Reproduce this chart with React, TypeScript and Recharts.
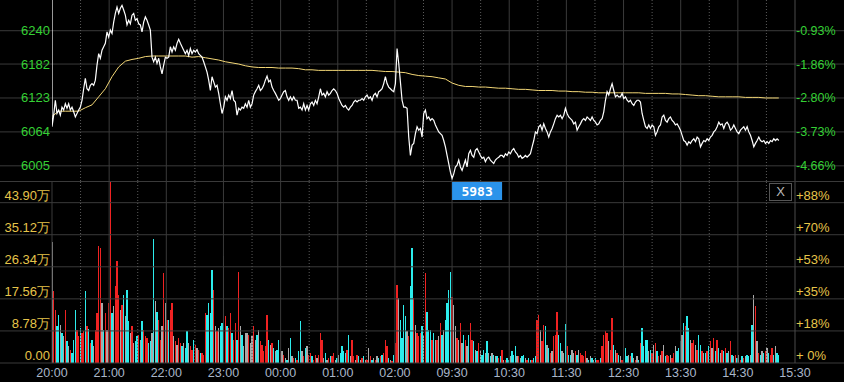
import { LineChart, Line, BarChart, Bar, XAxis, YAxis, ReferenceLine } from "recharts";

const FONT = "'Liberation Sans', Arial, sans-serif";
const GRID = "#3a3a3a";
const GRID_DOT = "#5a5a5a";
const GREEN = "#35d035";
const GOLD = "#e6c44a";
const TIME_COLOR = "#a9b6c9";
const BAR_COLORS: Record<string, string> = { r: "#f02222", c: "#2cecec", g: "#aaaaaa" };

// minutes from 20:00, sessions glued together (night + day = 780 min)
const SESSION_MIN = 780;
const STEP = 1.75;
const PRE_CLOSE = 6298.6;

const PRICE_DOMAIN = [5978.6, 6293.4];
const PRICE_TICKS = [6005, 6064, 6123, 6182, 6240];
const PRICE_LABELS = ["6005", "6064", "6123", "6182", "6240"];
const PCT_LABELS = ["-4.66%", "-3.73%", "-2.80%", "-1.86%", "-0.93%"];

const VOL_DOMAIN = [0, 49.83];
const VOL_TICKS = [0, 8.78, 17.56, 26.34, 35.12, 43.9];
const VOL_LABELS = ["0.00", "8.78万", "17.56万", "26.34万", "35.12万", "43.90万"];
const VOL_PCT_LABELS = ["+ 0%", "+18%", "+35%", "+53%", "+70%", "+88%"];

const TIME_TICKS = [0, 60, 120, 180, 240, 300, 360, 420, 480, 540, 600, 660, 720, 780];
const TIME_LABELS = ["20:00", "21:00", "22:00", "23:00", "00:00", "01:00", "02:00", "09:30", "10:30", "11:30", "12:30", "13:30", "14:30", "15:30"];

// last price, one sample every 1.75 min
const PRICE = [
  6073, 6093, 6119, 6096, 6102, 6093, 6107, 6102, 6113, 6105,
  6113, 6102, 6107, 6099, 6090, 6096, 6102, 6107, 6119, 6139,
  6157, 6139, 6136, 6145, 6148, 6145, 6154, 6180, 6200, 6192,
  6206, 6212, 6218, 6238, 6229, 6241, 6235, 6255, 6270, 6281,
  6270, 6279, 6284, 6276, 6267, 6250, 6258, 6252, 6267, 6270,
  6258, 6261, 6252, 6250, 6238, 6255, 6264, 6258, 6250, 6241,
  6194, 6186, 6194, 6183, 6192, 6177, 6165, 6180, 6194, 6192,
  6194, 6212, 6203, 6212, 6206, 6218, 6225, 6218, 6212, 6206,
  6200, 6206, 6197, 6209, 6200, 6206, 6203, 6207, 6200, 6197,
  6194, 6186, 6177, 6168, 6154, 6136, 6160, 6151, 6142, 6145,
  6131, 6113, 6096, 6107, 6125, 6119, 6128, 6122, 6136, 6119,
  6116, 6093, 6105, 6102, 6107, 6105, 6113, 6107, 6119, 6107,
  6113, 6128, 6134, 6139, 6145, 6136, 6139, 6145, 6154, 6161,
  6151, 6154, 6142, 6136, 6131, 6125, 6119, 6122, 6128, 6134,
  6136, 6125, 6119, 6125, 6119, 6125, 6119,
  6119, 6105, 6107, 6102, 6113, 6102, 6110, 6102, 6113, 6116,
  6110, 6119, 6113, 6125, 6139, 6128, 6131, 6125, 6134, 6128,
  6131, 6136, 6139, 6136, 6131, 6122, 6116, 6110, 6107, 6110,
  6105, 6102, 6107, 6110, 6116, 6119, 6116, 6119, 6119, 6122,
  6119, 6125, 6128, 6122, 6125, 6119, 6128, 6131, 6125, 6134,
  6136, 6139, 6148, 6160, 6148, 6142, 6139, 6136, 6134, 6148,
  6209, 6183, 6151, 6119, 6107, 6107, 6105, 6055, 6023, 6041,
  6044, 6061, 6073, 6067, 6070, 6055, 6096, 6102, 6087, 6090,
  6084, 6087, 6084, 6076, 6070, 6064, 6061, 6058, 6049, 6038,
  6023, 6009, 5994, 5983, 5991, 6003, 6006, 6015, 6003, 5997,
  6006, 6015, 6003, 6026, 6032, 6023, 6020, 6032, 6035, 6029,
  6023, 6018, 6020, 6012, 6018, 6020, 6015, 6012, 6009, 6015,
  6018, 6020, 6023, 6023, 6020, 6026, 6023, 6029, 6026, 6032,
  6035, 6029, 6026, 6020, 6023, 6018, 6020, 6023, 6020, 6023,
  6026, 6038, 6049, 6064, 6061, 6073, 6076, 6067, 6078, 6070,
  6064, 6055, 6064, 6070, 6078, 6087, 6093, 6090, 6093, 6087,
  6093, 6105, 6096, 6090, 6087, 6084, 6078, 6081, 6067, 6073,
  6078, 6084, 6087, 6084, 6090, 6087, 6084, 6090, 6084, 6081,
  6076, 6078, 6084, 6087, 6099, 6119, 6134, 6128, 6139, 6148,
  6136, 6125, 6128, 6125, 6125, 6131, 6122, 6125, 6119, 6116,
  6119, 6113, 6110, 6116, 6119, 6119, 6116, 6096, 6084, 6073,
  6070, 6076, 6070, 6076, 6073, 6058, 6064, 6073, 6076, 6090,
  6093, 6084, 6081, 6087, 6090, 6084, 6081, 6076, 6078, 6073,
  6067, 6058, 6049, 6047, 6041, 6047, 6044, 6049, 6052, 6047,
  6055, 6052, 6038, 6044, 6049, 6047, 6052, 6049, 6055, 6058,
  6064, 6067, 6073, 6081, 6076, 6078, 6070, 6078, 6081, 6076,
  6067, 6070, 6076, 6070, 6064, 6061, 6067, 6070, 6073, 6067,
  6073, 6064, 6058, 6049, 6038, 6044, 6049, 6055, 6049, 6047,
  6049, 6044, 6047, 6044, 6049, 6047, 6052, 6049, 6052, 6049,
];

// average price, one sample every 7 min
const AVG_STEP = 7;
const AVG = [
  6091, 6100, 6100, 6100, 6100, 6106, 6111, 6125, 6139, 6160,
  6177, 6187, 6190, 6192, 6195, 6196, 6196, 6196, 6196, 6196,
  6196, 6194, 6195, 6193, 6191, 6189, 6186, 6184, 6182, 6179,
  6177, 6176, 6176, 6176, 6175, 6175, 6175,
  6174, 6172, 6172, 6171, 6171, 6171, 6171, 6171, 6171, 6171,
  6171, 6171, 6170, 6169, 6169, 6168, 6167, 6164, 6162, 6161,
  6160, 6158, 6156, 6149, 6145, 6143, 6143, 6142, 6142, 6141,
  6140, 6140, 6139, 6138, 6138, 6137, 6136,
  6136, 6136, 6135, 6135, 6134, 6134, 6133, 6133, 6132, 6132,
  6132, 6132, 6132, 6132, 6132, 6131, 6131, 6131, 6131, 6130,
  6130, 6129, 6128, 6127, 6127, 6126, 6125, 6125, 6125, 6125,
  6124, 6124, 6124, 6123, 6123, 6123,
];

// volume in 万, same sampling as PRICE
const VOL = [
  33.0, 19.6, 14.6, 10.0, 13.2, 10.5, 8.2, 7.3, 14.6, 6.0,
  4.6, 3.6, 2.7, 6.4, 14.6, 9.1, 7.3, 9.6, 8.2, 8.7,
  19.6, 10.0, 9.3, 5.5, 6.4, 4.6, 8.9, 13.7, 31.9, 31.4,
  16.4, 9.1, 13.7, 9.1, 16.4, 49.8, 13.7, 15.5, 21.0, 27.8,
  18.7, 14.6, 16.0, 18.7, 12.8, 20.0, 11.4, 8.2, 10.0, 5.5,
  6.0, 7.3, 7.7, 6.4, 11.4, 9.1, 7.3, 6.8, 5.5, 6.0,
  8.2, 33.9, 16.9, 14.1, 11.8, 6.4, 10.0, 24.6, 16.4, 11.8,
  11.8, 14.6, 16.4, 7.3, 6.0, 5.0, 6.8, 5.5, 4.6, 5.5,
  4.1, 8.7, 5.5, 4.6, 3.6, 6.4, 5.0, 4.1, 3.6, 2.7,
  2.7, 2.3, 13.7, 13.2, 16.4, 13.7, 25.5, 20.0, 10.0, 8.7,
  9.6, 10.0, 10.9, 29.2, 12.8, 10.0, 9.6, 13.7, 8.2, 6.4,
  10.9, 6.4, 25.0, 10.0, 7.7, 4.6, 8.2, 8.2, 7.7, 5.5,
  7.3, 10.0, 6.4, 7.7, 9.1, 6.0, 5.0, 3.2, 4.6, 13.2,
  6.4, 5.0, 5.5, 4.1, 3.2, 3.6, 6.4, 2.7, 3.2, 2.3,
  1.4, 0.9, 4.1, 6.8, 1.8, 1.4, 1.4, 0.9,
  3.2, 11.4, 3.2, 1.8, 4.1, 4.6, 2.3, 2.7, 1.8, 0.9,
  2.3, 1.4, 2.3, 8.2, 6.4, 1.4, 2.7, 0.9, 1.4, 1.8,
  1.8, 2.7, 0.9, 1.4, 2.3, 2.7, 4.6, 3.2, 2.7, 3.6,
  7.7, 1.8, 6.4, 1.8, 0.9, 2.3, 1.8, 0.9, 1.4, 1.8,
  0.9, 0.9, 4.1, 1.8, 0.9, 1.4, 0.9, 1.8, 1.4, 1.8,
  2.3, 2.7, 6.4, 4.6, 1.4, 0.9, 0.5, 2.3, 5.5, 21.4,
  17.8, 11.8, 6.8, 15.9, 12.8, 8.7, 7.3, 21.0, 31.4, 17.8,
  10.5, 8.2, 7.3, 8.2, 10.0, 7.3, 24.6, 14.1, 9.1, 9.1,
  6.4, 8.2, 6.4, 6.4, 7.3, 10.9, 7.7, 9.1, 11.8, 16.4,
  20.0, 25.0, 18.2, 15.9, 10.0, 6.8, 6.4, 10.9, 5.5, 7.7,
  6.4, 4.6, 7.7, 10.9, 6.4, 6.0, 3.6, 3.2, 5.5, 3.2,
  2.3, 3.6, 2.7, 6.0, 2.7, 1.8, 2.7, 2.3, 1.8, 1.8,
  1.4, 1.8, 3.6, 0.9, 0.9, 1.4, 0.9, 1.8, 3.2, 2.3,
  4.6, 1.8, 1.8, 1.4, 1.8, 2.3, 1.4, 0.9, 1.4, 0.9,
  0.9, 1.4, 1.8, 11.8, 13.2, 9.1, 6.0, 10.5, 10.0,
  5.0, 4.1, 2.7, 3.2, 7.3, 7.7, 14.1, 7.7, 5.5, 3.2,
  2.7, 10.8, 4.6, 2.3, 2.3, 3.6, 2.7, 3.2, 2.3, 3.6,
  2.7, 2.3, 1.8, 3.2, 1.4, 0.9, 1.8, 1.4, 0.9, 1.4,
  0.9, 0.9, 1.4, 4.6, 7.7, 8.7, 8.2, 6.0, 3.6, 12.3,
  5.0, 3.6, 2.7, 2.3, 1.8, 0.9, 1.4, 4.1, 1.8, 2.3,
  1.8, 2.7, 1.4, 0.9, 1.8, 0.9, 5.5, 9.6, 4.6, 6.4,
  6.4, 3.2, 3.6, 2.7, 5.0, 5.5, 3.2, 1.8, 2.3, 3.2,
  5.0, 1.8, 2.3, 1.8, 2.3, 1.4, 2.7, 4.6, 3.2, 4.1,
  6.0, 7.7, 10.9, 10.0, 12.8, 9.6, 6.4, 5.5, 6.4, 5.0,
  3.6, 7.7, 5.0, 3.2, 2.7, 2.7, 3.2, 4.6, 6.0, 4.1,
  6.8, 3.2, 6.4, 4.1, 2.7, 3.6, 3.2, 4.1, 2.7, 3.2,
  6.0, 2.3, 1.8, 2.3, 1.4, 2.3, 0.9, 1.8, 1.4, 1.8,
  2.3, 1.8, 2.3, 10.5, 18.7, 15.5, 6.0, 2.7, 2.3, 3.2,
  2.7, 3.2, 4.1, 2.7, 2.3, 4.1, 2.3, 4.6, 2.7, 2.3,
];

// r = up, c = down, g = flat
const VOL_DIR = (
  "grrccgcgrc" + "grcccrrcrr" + "crcrcgrrrr" + "gcrgrrcgrr" + "rgrcgccgrg" +
  "ccrgcrrrcc" + "gcgcrrgrgr" + "crrgrgrrcg" + "ccgrrcrgrc" + "rrrccccrgr" +
  "gccgrcrrcr" + "rcrgcgggrg" + "grgcgrrrrr" + "cgrcgccrgr" + "gcgcgrcr" +
  "ccgrcgrrcr" + "rgrrrgcgrc" + "rrgcgccccr" + "cgrrgrcgrc" + "grgrcgrgcr" +
  "crrrcgrcrr" + "gccccgrccr" + "grrrcgrccc" + "rcgrgrcgcc" + "ccrggrgrgc" +
  "rgcrrcgcrg" + "ccgcgcgcgc" + "rcrgrccgcc" + "cgrgccgrcc" + "rccrrgrrc" +
  "gcrgrrrccg" + "gcrccggrcg" + "rrrrgcgcgc" + "rrcrrrrgrr" + "cgrcgrcccg" +
  "rcgrgcrccc" + "cgcrgrcrgr" + "gcrrgrrgcc" + "cgcrccgrrg" + "rccrgcrcrg" +
  "rcrcgrcrcg" + "rcgrcgrcrg" + "ccgcgrgrcg" + "crgcrrcgcc"
).split("");

const priceData = [{ t: 0, p: PRE_CLOSE }, ...PRICE.map((p, i) => ({ t: i * STEP, p }))];
const avgData = AVG.map((a, i) => ({ t: i * AVG_STEP, a }));
const volData = VOL.map((v, i) => ({ t: i * STEP, v, c: VOL_DIR[i] ?? "g" }));

const LOW = Math.min(...PRICE);
const LOW_T = PRICE.indexOf(LOW) * STEP;

const GRID_MINUTES = Array.from({ length: SESSION_MIN / 30 - 1 }, (_, i) => (i + 1) * 30);

const txt = { fontFamily: FONT, fontSize: 13 };

function PriceTick(props: any) {
  const i = PRICE_TICKS.indexOf(props.payload.value);
  return <text x={50} y={props.y + 4.5} textAnchor="end" fill={GREEN} {...txt}>{PRICE_LABELS[i]}</text>;
}

function PctTick(props: any) {
  const i = PRICE_TICKS.indexOf(props.payload.value);
  return <text x={796} y={props.y + 4.5} textAnchor="start" fill={GREEN} {...txt} fontSize={12.5}>{PCT_LABELS[i]}</text>;
}

function VolTick(props: any) {
  const i = VOL_TICKS.indexOf(props.payload.value);
  return <text x={50} y={props.y - 3} textAnchor="end" fill={GOLD} {...txt}>{VOL_LABELS[i]}</text>;
}

function VolPctTick(props: any) {
  const i = VOL_TICKS.indexOf(props.payload.value);
  return <text x={796} y={props.y - 3} textAnchor="start" fill={GOLD} {...txt} style={{ whiteSpace: "pre" }}>{VOL_PCT_LABELS[i]}</text>;
}

function TimeTick(props: any) {
  const i = TIME_TICKS.indexOf(props.payload.value);
  return <text x={props.x} y={props.y + 13.5} textAnchor="middle" fill={TIME_COLOR} {...txt} fontSize={12.5}>{TIME_LABELS[i]}</text>;
}

function VolBar(props: any) {
  const { x, y, width, height, payload } = props;
  if (!height || height <= 0) return null;
  return <rect x={x} y={y} width={width} height={height} fill={BAR_COLORS[payload.c]} shapeRendering="crispEdges" />;
}

function LowLabel(props: any) {
  const { x, y } = props.viewBox;
  return (
    <g>
      <rect x={x} y={y + 1} width={50} height={18} fill="#2b93ea" />
      <text x={x + 25} y={y + 15} textAnchor="middle" fill="#fff" fontFamily="'DejaVu Sans Mono', monospace" fontSize={13} fontWeight="bold">
        {LOW}
      </text>
    </g>
  );
}

function gridLines(yId: string, ticks: number[]) {
  return [
    ...ticks.map(v => (
      <ReferenceLine key={"h" + v} yAxisId={yId} segment={[{ x: -60, y: v }, { x: 840, y: v }]} stroke={GRID} ifOverflow="visible" />
    )),
    ...GRID_MINUTES.map(m => (
      <ReferenceLine key={"v" + m} yAxisId={yId} x={m} stroke={m % 60 === 0 ? GRID : GRID_DOT} strokeDasharray={m % 60 === 0 ? undefined : "1 2"} />
    )),
    <ReferenceLine key="edge" yAxisId={yId} x={SESSION_MIN} stroke="#4a4a4a" />,
  ];
}

export default function App() {
  return (
    <div style={{ position: "absolute", left: 0, top: 0, width: 844, height: 382, background: "#000", overflow: "hidden" }}>
      <LineChart width={844} height={181} data={priceData} margin={{ top: 0, right: 0, bottom: 0, left: 0 }}>
        <XAxis type="number" dataKey="t" domain={[0, SESSION_MIN]} hide allowDataOverflow />
        <YAxis yAxisId="l" domain={PRICE_DOMAIN} ticks={PRICE_TICKS} interval={0} width={52} axisLine={false} tickLine={false} tick={PriceTick} allowDataOverflow />
        <YAxis yAxisId="r" orientation="right" domain={PRICE_DOMAIN} ticks={PRICE_TICKS} interval={0} width={49} axisLine={false} tickLine={false} tick={PctTick} allowDataOverflow />
        {gridLines("l", PRICE_TICKS)}
        <Line yAxisId="l" data={avgData} dataKey="a" type="linear" stroke="#f2d676" strokeWidth={1} dot={false} activeDot={false} isAnimationActive={false} />
        <Line yAxisId="l" dataKey="p" type="linear" stroke="#ffffff" strokeWidth={1.2} dot={false} activeDot={false} isAnimationActive={false} />
      </LineChart>

      <div style={{ position: "absolute", left: 0, top: 181 }}>
        <BarChart width={844} height={201} data={volData} margin={{ top: 0, right: 0, bottom: 0, left: 0 }}>
          <XAxis type="number" dataKey="t" domain={[0, SESSION_MIN]} ticks={TIME_TICKS} interval={0} height={19} axisLine={false} tickLine={false} tickSize={0} tickMargin={0} tick={TimeTick} allowDataOverflow />
          <YAxis yAxisId="l" domain={VOL_DOMAIN} ticks={VOL_TICKS} interval={0} width={52} axisLine={false} tickLine={false} tick={VolTick} allowDataOverflow />
          <YAxis yAxisId="r" orientation="right" domain={VOL_DOMAIN} ticks={VOL_TICKS} interval={0} width={49} axisLine={false} tickLine={false} tick={VolPctTick} allowDataOverflow />
          {gridLines("l", VOL_TICKS)}
          <ReferenceLine yAxisId="l" x={0} stroke={GRID} />
          <Bar yAxisId="l" dataKey="v" barSize={1.5} shape={VolBar} isAnimationActive={false} />
          <ReferenceLine yAxisId="l" x={LOW_T} stroke="none" label={LowLabel} />
        </BarChart>
      </div>

      <div style={{ position: "absolute", left: 0, top: 181, width: 844, height: 1, background: GRID }} />
      <div
        style={{
          position: "absolute", left: 769, top: 183, width: 21, height: 16, border: "1px solid #555",
          color: "#b8b8b8", fontFamily: FONT, fontSize: 13, lineHeight: "16px", textAlign: "center",
        }}
      >
        X
      </div>
    </div>
  );
}
